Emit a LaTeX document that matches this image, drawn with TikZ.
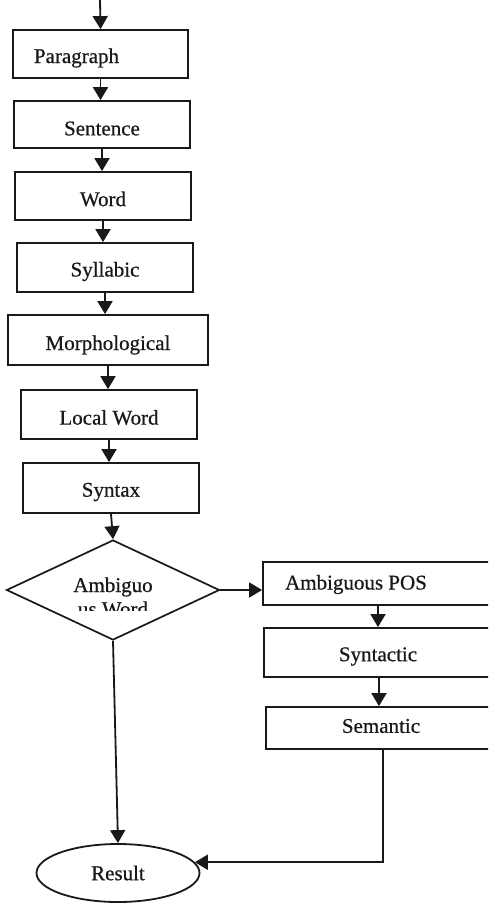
\documentclass[tikz,border=0pt]{standalone}
\usepackage{fontspec}
\setmainfont{Liberation Serif}
\newfontfamily\inkfont{Liberation Serif}[FakeBold=0.6]
\usetikzlibrary{arrows.meta,shapes.geometric}

\begin{document}
\begin{tikzpicture}[
  x=1pt, y=-1pt,
  every node/.style={font=\inkfont\fontsize{21}{25}\selectfont, text=black!90},
  stage/.style={draw=black!90, line width=1.8pt, rectangle, inner sep=0pt},
  decision/.style={draw=black!90, line width=1.7pt, diamond, inner sep=0pt},
  terminal/.style={draw=black!90, line width=1.8pt, ellipse, inner sep=0pt},
  flow/.style={draw=black!90, line width=1.8pt, -{Triangle[length=13pt,width=15pt]}},
]
\useasboundingbox (0,0) rectangle (488,903);
\clip (0,0) rectangle (488,903);
\fill[white] (0,0) rectangle (488,903);

% left column: text processing stages
\node[stage, minimum width=175pt, minimum height=48pt,
      label={[xshift=-24pt,yshift=-4pt]center:Paragraph}] (paragraph) at (100.5,54) {};
\node[stage, minimum width=176pt, minimum height=47pt,
      label={[yshift=-4pt]center:Sentence}] (sentence) at (102,124.5) {};
\node[stage, minimum width=176pt, minimum height=48pt,
      label={[yshift=-3pt]center:Word}] (word) at (103,196) {};
\node[stage, minimum width=176pt, minimum height=49pt,
      label={[yshift=-4pt]center:Syllabic}] (syllabic) at (105,267.5) {};
\node[stage, minimum width=200pt, minimum height=50pt,
      label={[yshift=-5pt]center:Morphological}] (morph) at (108,340) {};
\node[stage, minimum width=176pt, minimum height=49pt,
      label={[yshift=-3pt]center:Local Word}] (localword) at (109,414.5) {};
\node[stage, minimum width=176pt, minimum height=50pt,
      label={[yshift=-4pt]center:Syntax}] (syntax) at (111,488) {};

% decision
\node[decision, minimum width=213pt, minimum height=100pt] (ambword) at (113,590) {};
\node[anchor=base] (ambword-top) at (113,592) {Ambiguo};
\begin{scope}
  \clip (60,560) rectangle (170,610);
  \node[anchor=base] (ambword-bottom) at (113,616) {us Word};
\end{scope}

% right column: disambiguation stages
\node[stage, minimum width=230pt, minimum height=43pt,
      label={[xshift=-22pt,yshift=-1pt]center:Ambiguous POS}] (ambpos) at (378,583.5) {};
\node[stage, minimum width=230pt, minimum height=49pt,
      label={[xshift=-1pt,yshift=-4pt]center:Syntactic}] (syntactic) at (379,652.5) {};
\node[stage, minimum width=230pt, minimum height=42pt,
      label={[yshift=2pt]center:Semantic}] (semantic) at (381,728) {};

% final result
\node[terminal, minimum width=163pt, minimum height=58pt] (result) at (118,873) {Result};

\coordinate (start) at (100,0);

% connectors
\draw[flow] (start) -- (paragraph.north);
\draw[flow] (paragraph.south) -- (paragraph.south |- sentence.north);
\draw[flow] (sentence.south) -- (sentence.south |- word.north);
\draw[flow] (word.south) -- (word.south |- syllabic.north);
\draw[flow] (syllabic.south) -- (syllabic.south |- morph.north);
\draw[flow] (morph.south) -- (morph.south |- localword.north);
\draw[flow] (localword.south) -- (localword.south |- syntax.north);
\draw[flow] (syntax.south) -- (ambword.north);
\draw[flow] (ambword.east) -- (ambpos.west |- ambword.east);
\draw[flow] (ambpos.south) -- (ambpos.south |- syntactic.north);
\draw[flow] (syntactic.south) -- (syntactic.south |- semantic.north);
\draw[flow] ([xshift=2pt]semantic.south) |- (result.8);
\draw[flow] (ambword.south) -- (result.north);
\end{tikzpicture}
\end{document}
